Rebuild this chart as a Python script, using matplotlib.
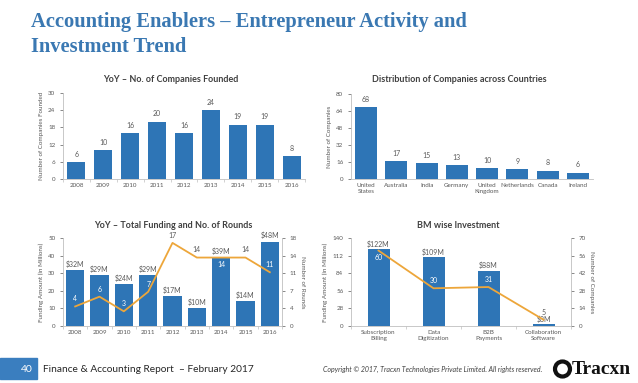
import matplotlib.pyplot as plt
from matplotlib.patches import Rectangle, Ellipse
import numpy as np

# Datos
anios = ['2008', '2009', '2010', '2011', '2012', '2013', '2014', '2015', '2016']
empresas_fundadas = [6, 10, 16, 20, 16, 24, 19, 19, 8]

paises = ['United\nStates', 'Australia', 'India', 'Germany', 'United\nKingdom',
          'Netherlands', 'Canada', 'Ireland']
empresas_pais = [68, 17, 15, 13, 10, 9, 8, 6]

financiamiento = [32, 29, 24, 29, 17, 10, 39, 14, 48]
rondas = [4, 6, 3, 7, 17, 14, 14, 14, 11]

modelos = ['Subscription\nBilling', 'Data\nDigitization', 'B2B\nPayments',
           'Collaboration\nSoftware']
inversion_bm = [122, 109, 88, 3]
empresas_bm = [60, 30, 31, 5]

azul = '#2e75b6'
naranja = '#eda63a'
gris = '#595959'
eje = '#bfbfbf'

plt.rcParams['font.family'] = ['Lato', 'DejaVu Sans']

fig = plt.figure(figsize=(6.38, 3.83), dpi=100)
W, H = 638, 383


def caja(x0, y0, x1, y1):
    return [x0 / W, 1 - y1 / H, (x1 - x0) / W, (y1 - y0) / H]


def estilo(ax, derecha=False):
    for lado in ['top', 'right']:
        ax.spines[lado].set_visible(derecha and lado == 'right')
    for lado in ['left', 'bottom', 'right']:
        ax.spines[lado].set_color(eje)
        ax.spines[lado].set_linewidth(0.6)
    ax.tick_params(axis='both', labelsize=4.5, colors=gris, length=2, width=0.5)
    ax.tick_params(axis='x', length=0, pad=3)


def separadores(ax, n):
    ax.set_xticks(np.arange(n + 1) - 0.5, minor=True)
    ax.tick_params(axis='x', which='minor', length=2.5, width=0.5, color=eje)


def etiquetas_linea(ax, valores, barras, escala):
    # etiqueta blanca si cae dentro de la barra, debajo si toca el borde
    for i, v in enumerate(valores):
        nivel = v * escala
        dentro = nivel < barras[i] + 1
        cerca = abs(barras[i] - nivel) < 5
        if cerca:
            ax.annotate(str(v), (i, v), xytext=(0, -2.5), textcoords='offset points',
                        ha='center', va='top', fontsize=5, color='white')
        else:
            ax.annotate(str(v), (i, v), xytext=(0, 3), textcoords='offset points',
                        ha='center', va='bottom', fontsize=5,
                        color='white' if dentro else gris)


# Titulo
fig.text(31 / W, 1 - 12 / H, 'Accounting Enablers \u2013 Entrepreneur Activity and\nInvestment Trend',
         family='Liberation Serif', fontweight='bold', fontsize=14.8, color='#3a78b2',
         va='top', ha='left', linespacing=1.3)

# Grafica 1
ax1 = fig.add_axes(caja(63, 93, 305, 179))
x = np.arange(len(anios))
ax1.bar(x, empresas_fundadas, width=0.67, color=azul)
ax1.set_xlim(-0.5, len(anios) - 0.5)
ax1.set_ylim(0, 30)
ax1.set_yticks([0, 6, 12, 18, 24, 30])
ax1.set_xticks(x)
ax1.set_xticklabels(anios)
estilo(ax1)
separadores(ax1, len(anios))
for i, v in enumerate(empresas_fundadas):
    ax1.annotate(str(v), (i, v), xytext=(0, 3), textcoords='offset points',
                 ha='center', va='bottom', fontsize=5, color=gris)
ax1.set_ylabel('Number of Companies Founded', fontsize=4.5, color=gris, labelpad=3)
fig.text(171 / W, 1 - 80 / H, 'YoY \u2013 No. of Companies Founded', ha='center', va='center',
         fontsize=6.5, fontweight='bold', color='#404040')

# Grafica 2
ax2 = fig.add_axes(caja(351, 94, 593, 179))
x = np.arange(len(paises))
ax2.bar(x, empresas_pais, width=0.72, color=azul)
ax2.set_xlim(-0.5, len(paises) - 0.5)
ax2.set_ylim(0, 80)
ax2.set_yticks([0, 16, 32, 48, 64, 80])
ax2.set_xticks(x)
ax2.set_xticklabels(paises, linespacing=1.1)
estilo(ax2)
for i, v in enumerate(empresas_pais):
    ax2.annotate(str(v), (i, v), xytext=(0, 3), textcoords='offset points',
                 ha='center', va='bottom', fontsize=5, color=gris)
ax2.set_ylabel('Number of Companies', fontsize=4.5, color=gris, labelpad=3)
fig.text(459 / W, 1 - 80 / H, 'Distribution of Companies across Countries', ha='center',
         va='center', fontsize=6.5, fontweight='bold', color='#404040')

# Grafica 3
ax3 = fig.add_axes(caja(63, 238, 282, 326))
x = np.arange(len(anios))
ax3.bar(x, financiamiento, width=0.74, color=azul)
ax3.set_xlim(-0.5, len(anios) - 0.5)
ax3.set_ylim(0, 50)
ax3.set_yticks([0, 10, 20, 30, 40, 50])
ax3.set_xticks(x)
ax3.set_xticklabels(anios)
estilo(ax3)
separadores(ax3, len(anios))
for i, v in enumerate(financiamiento):
    ax3.annotate('$%dM' % v, (i, v), xytext=(0, 1.5), textcoords='offset points',
                 ha='center', va='bottom', fontsize=5, color=gris)
ax3.set_ylabel('Funding Amount (in Millions)', fontsize=4.5, color=gris, labelpad=3)
ax3b = ax3.twinx()
ax3b.plot(x, rondas, color=naranja, linewidth=1.3)
ax3b.set_ylim(0, 18)
ax3b.set_yticks([0, 3.6, 7.2, 10.8, 14.4, 18])
ax3b.set_yticklabels(['0', '4', '7', '11', '14', '18'])
estilo(ax3b, derecha=True)
ax3b.spines['left'].set_visible(False)
ax3b.spines['bottom'].set_visible(False)
ax3b.set_ylabel('Number of Rounds', fontsize=4.5, color=gris, rotation=270, labelpad=6)
etiquetas_linea(ax3b, rondas, financiamiento, 50 / 18)
fig.text(173 / W, 1 - 225 / H, 'YoY \u2013 Total Funding and No. of Rounds', ha='center',
         va='center', fontsize=6.5, fontweight='bold', color='#404040')

# Grafica 4
ax4 = fig.add_axes(caja(351, 238, 571, 326))
x = np.arange(len(modelos))
ax4.bar(x, inversion_bm, width=0.4, color=azul)
ax4.set_xlim(-0.5, len(modelos) - 0.5)
ax4.set_ylim(0, 140)
ax4.set_yticks([0, 28, 56, 84, 112, 140])
ax4.set_xticks(x)
ax4.set_xticklabels(modelos, linespacing=1.3)
estilo(ax4)
separadores(ax4, len(modelos))
for i, v in enumerate(inversion_bm):
    ax4.annotate('$%dM' % v, (i, v), xytext=(0, 1), textcoords='offset points',
                 ha='center', va='bottom', fontsize=5, color=gris)
ax4.set_ylabel('Funding Amount (in Millions)', fontsize=4.5, color=gris, labelpad=3)
ax4b = ax4.twinx()
ax4b.plot(x, empresas_bm, color=naranja, linewidth=1.3)
ax4b.set_ylim(0, 70)
ax4b.set_yticks([0, 14, 28, 42, 56, 70])
estilo(ax4b, derecha=True)
ax4b.spines['left'].set_visible(False)
ax4b.spines['bottom'].set_visible(False)
ax4b.set_ylabel('Number of Companies', fontsize=4.5, color=gris, rotation=270, labelpad=6)
etiquetas_linea(ax4b, empresas_bm, inversion_bm, 2)
fig.text(458 / W, 1 - 225 / H, 'BM wise Investment', ha='center', va='center',
         fontsize=6.5, fontweight='bold', color='#404040')

# Pie de pagina
fig.patches.append(Rectangle((0, 1 - 379 / H), 37 / W, 21 / H, transform=fig.transFigure,
                             color='#3a7ebf', zorder=0))
fig.text(33 / W, 1 - 369 / H, '40', ha='right', va='center', fontsize=7.5, color='white')
fig.text(43 / W, 1 - 369 / H, 'Finance & Accounting Report  \u2013 February 2017',
         ha='left', va='center', fontsize=7.3, color='#262626')
fig.text(323 / W, 1 - 369 / H,
         'Copyright \u00a9 2017, Tracxn Technologies Private Limited. All rights reserved.',
         ha='left', va='center', fontsize=5, style='italic', color='#404040')
fig.patches.append(Ellipse((562.5 / W, 1 - 369 / H), 15 / W, 15 / H, transform=fig.transFigure,
                           fill=False, edgecolor='#111111', linewidth=3))
fig.text(572 / W, 1 - 369 / H, 'Tracxn', ha='left', va='center', family='Liberation Serif',
         fontweight='bold', fontsize=14, color='#111111')

plt.savefig('out.png', dpi=100)
